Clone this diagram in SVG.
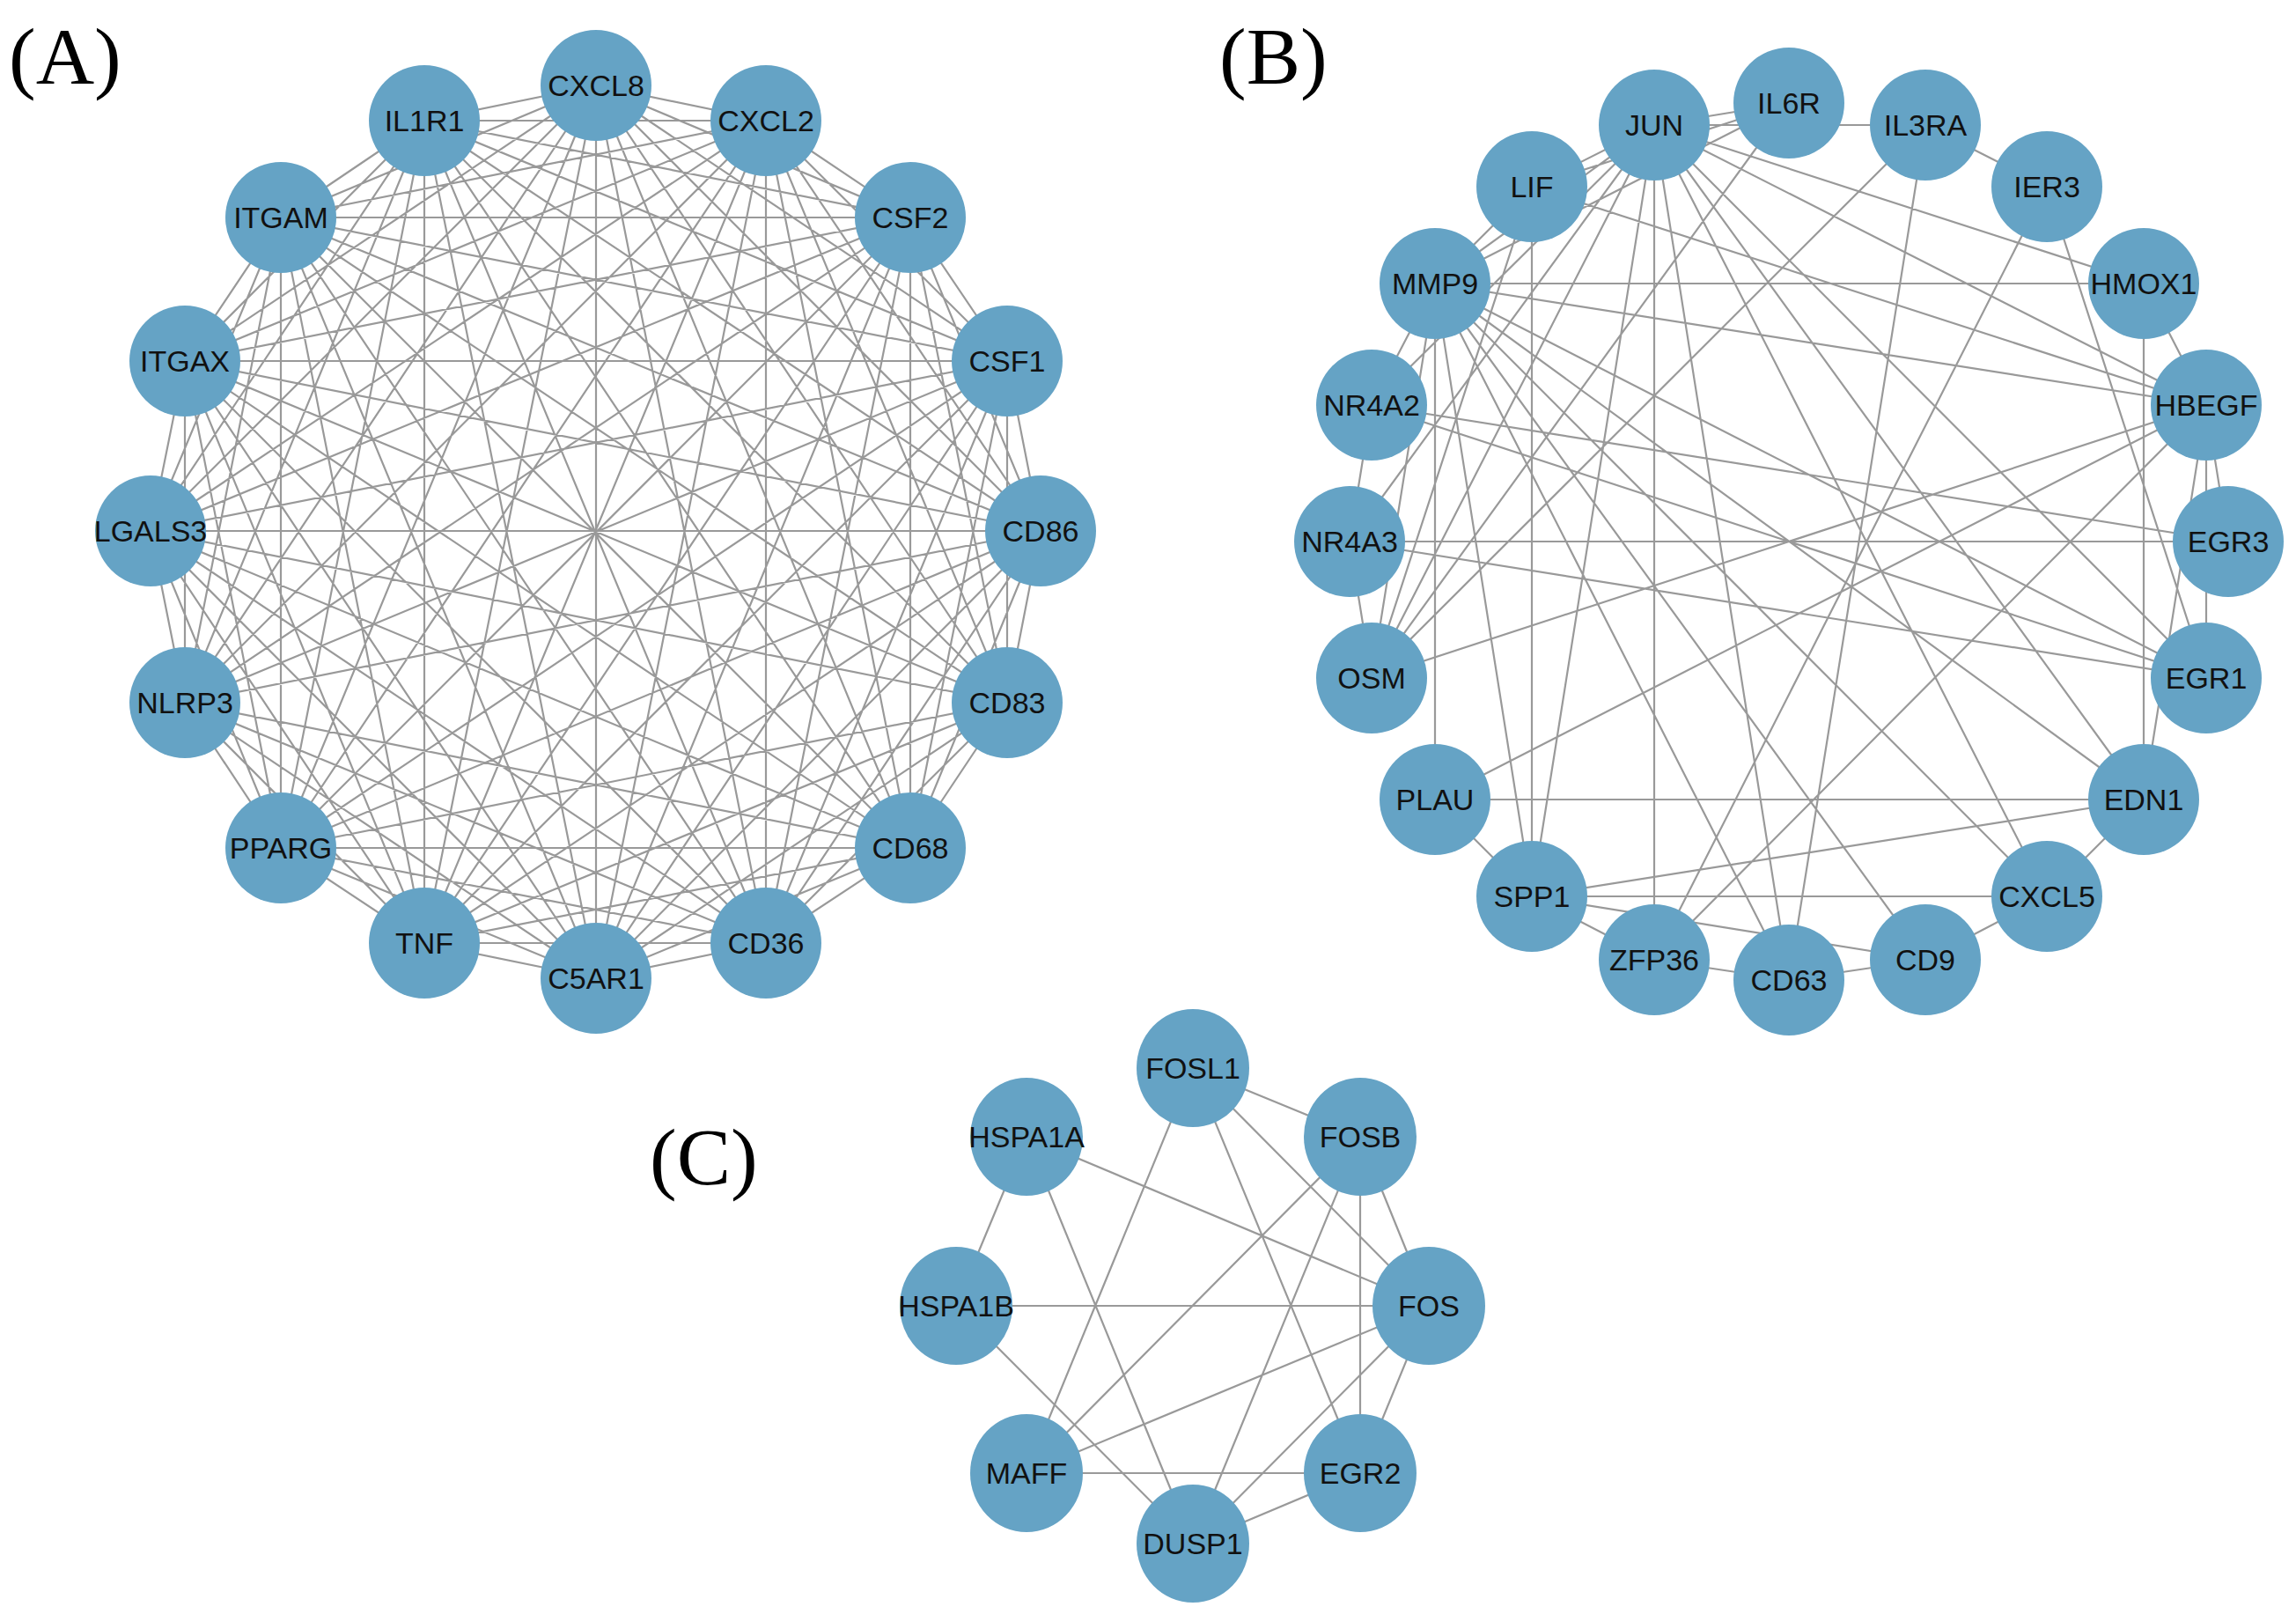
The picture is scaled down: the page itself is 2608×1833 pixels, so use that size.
<svg xmlns="http://www.w3.org/2000/svg" width="2608" height="1833" viewBox="0 0 2608 1833">
<style>
.e{fill:none;stroke:#999;stroke-width:2.2;stroke-linejoin:round}
.n circle,.n ellipse{fill:#65a3c5}
.n text{font-family:"Liberation Sans",Arial,sans-serif;font-size:34px;fill:#111;text-anchor:middle;dominant-baseline:central}
.p{font-family:"Liberation Serif","Times New Roman",serif;font-size:92px;fill:#000}
</style>
<rect width="2608" height="1833" fill="#fff"/>
<text class="p" x="10" y="95">(A)</text>
<text class="p" x="1385" y="95">(B)</text>
<text class="p" x="738" y="1345">(C)</text>
<g id="connectors">
<path class="e" d="M677 97L870 137L677 97L1034 247L677 97L1144 410L677 97L1182 603L677 97L1144 798L677 97L1034 963L677 97L870 1071L677 97L677 1111L677 97L482 1071L677 97L319 963L677 97L210 798L677 97L171 603L677 97L210 410L677 97L319 247L677 97L482 137
M870 137L1034 247L870 137L1144 410L870 137L1182 603L870 137L1144 798L870 137L1034 963L870 137L870 1071L870 137L677 1111L870 137L482 1071L870 137L319 963L870 137L210 798L870 137L171 603L870 137L210 410L870 137L319 247L870 137L482 137
M1034 247L1144 410L1034 247L1182 603L1034 247L1144 798L1034 247L1034 963L1034 247L870 1071L1034 247L677 1111L1034 247L482 1071L1034 247L319 963L1034 247L210 798L1034 247L171 603L1034 247L210 410L1034 247L319 247L1034 247L482 137
M1144 410L1182 603L1144 410L1144 798L1144 410L1034 963L1144 410L870 1071L1144 410L677 1111L1144 410L482 1071L1144 410L319 963L1144 410L210 798L1144 410L171 603L1144 410L210 410L1144 410L319 247L1144 410L482 137
M1182 603L1144 798L1182 603L1034 963L1182 603L870 1071L1182 603L677 1111L1182 603L482 1071L1182 603L319 963L1182 603L210 798L1182 603L171 603L1182 603L210 410L1182 603L319 247L1182 603L482 137
M1144 798L1034 963L1144 798L870 1071L1144 798L677 1111L1144 798L482 1071L1144 798L319 963L1144 798L171 603L1144 798L210 410L1144 798L319 247L1144 798L482 137
M1034 963L870 1071L1034 963L677 1111L1034 963L482 1071L1034 963L319 963L1034 963L210 798L1034 963L171 603L1034 963L210 410L1034 963L319 247L1034 963L482 137
M870 1071L677 1111L870 1071L482 1071L870 1071L319 963L870 1071L210 798L870 1071L171 603L870 1071L210 410L870 1071L319 247L870 1071L482 137
M677 1111L482 1071L677 1111L319 963L677 1111L210 798L677 1111L171 603L677 1111L210 410L677 1111L319 247L677 1111L482 137
M482 1071L319 963L482 1071L210 798L482 1071L171 603L482 1071L210 410L482 1071L319 247L482 1071L482 137
M319 963L210 798L319 963L171 603L319 963L210 410L319 963L319 247L319 963L482 137
M210 798L171 603L210 798L210 410L210 798L319 247L210 798L482 137
M171 603L210 410L171 603L319 247L171 603L482 137
M210 410L319 247L210 410L482 137M319 247L482 137"/>
<path class="e" d="M1879 142L2032 117L1879 142L1740 212L1879 142L1630 322L1879 142L1558 460L1879 142L1533 615L1879 142L1558 770L1879 142L1740 1018L1879 142L1879 1090L1879 142L2032 1113L1879 142L2325 1018L1879 142L2435 908L1879 142L2506 770L1879 142L2506 460L1879 142L2435 322L1879 142L2187 142
M2032 117L1740 212M2032 117L1630 322M2032 117L1558 770
M2187 142L2325 212M2187 142L2032 1113M2187 142L1558 770
M2325 212L1879 1090M2325 212L2506 770
M2435 322L1630 322M2435 322L2435 908M2435 322L2506 460
M2506 460L1630 908M2506 460L1630 322M2506 460L1740 212M2506 460L2506 770M2506 460L2531 615M2506 460L2435 908M2506 460L1879 1090M2506 460L1558 770
M2531 615L1533 615M2531 615L1558 460
M2506 770L1558 460M2506 770L1533 615M2506 770L1630 322
M2435 908L1630 908M2435 908L1740 1018M2435 908L1630 322M2435 908L2325 1018
M2325 1018L1740 1018M2325 1018L1630 322M2325 1018L2187 1090
M2187 1090L2032 1113M2187 1090L1740 1018M2187 1090L1630 322
M2032 1113L1879 1090M2032 1113L1630 322
M1879 1090L1740 1018
M1740 1018L1630 908M1740 1018L1630 322M1740 1018L1740 212
M1630 908L1630 322
M1558 770L1533 615M1558 770L1630 322M1558 770L1740 212
M1533 615L1558 460M1558 460L1630 322M1630 322L1740 212"/>
<path class="e" d="M1355 1213L1545 1291M1355 1213L1623 1483M1355 1213L1545 1673M1355 1213L1166 1673
M1545 1291L1623 1483M1545 1291L1545 1673M1545 1291L1166 1673M1545 1291L1355 1753
M1623 1483L1545 1673M1623 1483L1086 1483M1623 1483L1166 1291M1623 1483L1166 1673M1623 1483L1355 1753
M1545 1673L1355 1753M1545 1673L1166 1673
M1166 1291L1086 1483M1166 1291L1355 1753M1086 1483L1355 1753"/>
</g>
<g id="A-CXCL8" class="n"><circle cx="677" cy="97" r="63"/><text x="677" y="97">CXCL8</text></g>
<g id="A-CXCL2" class="n"><circle cx="870" cy="137" r="63"/><text x="870" y="137">CXCL2</text></g>
<g id="A-CSF2" class="n"><circle cx="1034" cy="247" r="63"/><text x="1034" y="247">CSF2</text></g>
<g id="A-CSF1" class="n"><circle cx="1144" cy="410" r="63"/><text x="1144" y="410">CSF1</text></g>
<g id="A-CD86" class="n"><circle cx="1182" cy="603" r="63"/><text x="1182" y="603">CD86</text></g>
<g id="A-CD83" class="n"><circle cx="1144" cy="798" r="63"/><text x="1144" y="798">CD83</text></g>
<g id="A-CD68" class="n"><circle cx="1034" cy="963" r="63"/><text x="1034" y="963">CD68</text></g>
<g id="A-CD36" class="n"><circle cx="870" cy="1071" r="63"/><text x="870" y="1071">CD36</text></g>
<g id="A-C5AR1" class="n"><circle cx="677" cy="1111" r="63"/><text x="677" y="1111">C5AR1</text></g>
<g id="A-TNF" class="n"><circle cx="482" cy="1071" r="63"/><text x="482" y="1071">TNF</text></g>
<g id="A-PPARG" class="n"><circle cx="319" cy="963" r="63"/><text x="319" y="963">PPARG</text></g>
<g id="A-NLRP3" class="n"><circle cx="210" cy="798" r="63"/><text x="210" y="798">NLRP3</text></g>
<g id="A-LGALS3" class="n"><circle cx="171" cy="603" r="63"/><text x="171" y="603">LGALS3</text></g>
<g id="A-ITGAX" class="n"><circle cx="210" cy="410" r="63"/><text x="210" y="410">ITGAX</text></g>
<g id="A-ITGAM" class="n"><circle cx="319" cy="247" r="63"/><text x="319" y="247">ITGAM</text></g>
<g id="A-IL1R1" class="n"><circle cx="482" cy="137" r="63"/><text x="482" y="137">IL1R1</text></g>
<g id="B-JUN" class="n"><circle cx="1879" cy="142" r="63"/><text x="1879" y="142">JUN</text></g>
<g id="B-IL6R" class="n"><circle cx="2032" cy="117" r="63"/><text x="2032" y="117">IL6R</text></g>
<g id="B-IL3RA" class="n"><circle cx="2187" cy="142" r="63"/><text x="2187" y="142">IL3RA</text></g>
<g id="B-IER3" class="n"><circle cx="2325" cy="212" r="63"/><text x="2325" y="212">IER3</text></g>
<g id="B-HMOX1" class="n"><circle cx="2435" cy="322" r="63"/><text x="2435" y="322">HMOX1</text></g>
<g id="B-HBEGF" class="n"><circle cx="2506" cy="460" r="63"/><text x="2506" y="460">HBEGF</text></g>
<g id="B-EGR3" class="n"><circle cx="2531" cy="615" r="63"/><text x="2531" y="615">EGR3</text></g>
<g id="B-EGR1" class="n"><circle cx="2506" cy="770" r="63"/><text x="2506" y="770">EGR1</text></g>
<g id="B-EDN1" class="n"><circle cx="2435" cy="908" r="63"/><text x="2435" y="908">EDN1</text></g>
<g id="B-CXCL5" class="n"><circle cx="2325" cy="1018" r="63"/><text x="2325" y="1018">CXCL5</text></g>
<g id="B-CD9" class="n"><circle cx="2187" cy="1090" r="63"/><text x="2187" y="1090">CD9</text></g>
<g id="B-CD63" class="n"><circle cx="2032" cy="1113" r="63"/><text x="2032" y="1113">CD63</text></g>
<g id="B-ZFP36" class="n"><circle cx="1879" cy="1090" r="63"/><text x="1879" y="1090">ZFP36</text></g>
<g id="B-SPP1" class="n"><circle cx="1740" cy="1018" r="63"/><text x="1740" y="1018">SPP1</text></g>
<g id="B-PLAU" class="n"><circle cx="1630" cy="908" r="63"/><text x="1630" y="908">PLAU</text></g>
<g id="B-OSM" class="n"><circle cx="1558" cy="770" r="63"/><text x="1558" y="770">OSM</text></g>
<g id="B-NR4A3" class="n"><circle cx="1533" cy="615" r="63"/><text x="1533" y="615">NR4A3</text></g>
<g id="B-NR4A2" class="n"><circle cx="1558" cy="460" r="63"/><text x="1558" y="460">NR4A2</text></g>
<g id="B-MMP9" class="n"><circle cx="1630" cy="322" r="63"/><text x="1630" y="322">MMP9</text></g>
<g id="B-LIF" class="n"><circle cx="1740" cy="212" r="63"/><text x="1740" y="212">LIF</text></g>
<g id="C-FOSL1" class="n"><ellipse cx="1355" cy="1213" rx="64" ry="67"/><text x="1355" y="1213">FOSL1</text></g>
<g id="C-FOSB" class="n"><ellipse cx="1545" cy="1291" rx="64" ry="67"/><text x="1545" y="1291">FOSB</text></g>
<g id="C-FOS" class="n"><ellipse cx="1623" cy="1483" rx="64" ry="67"/><text x="1623" y="1483">FOS</text></g>
<g id="C-EGR2" class="n"><ellipse cx="1545" cy="1673" rx="64" ry="67"/><text x="1545" y="1673">EGR2</text></g>
<g id="C-DUSP1" class="n"><ellipse cx="1355" cy="1753" rx="64" ry="67"/><text x="1355" y="1753">DUSP1</text></g>
<g id="C-MAFF" class="n"><ellipse cx="1166" cy="1673" rx="64" ry="67"/><text x="1166" y="1673">MAFF</text></g>
<g id="C-HSPA1B" class="n"><ellipse cx="1086" cy="1483" rx="64" ry="67"/><text x="1086" y="1483">HSPA1B</text></g>
<g id="C-HSPA1A" class="n"><ellipse cx="1166" cy="1291" rx="64" ry="67"/><text x="1166" y="1291">HSPA1A</text></g>
</svg>
